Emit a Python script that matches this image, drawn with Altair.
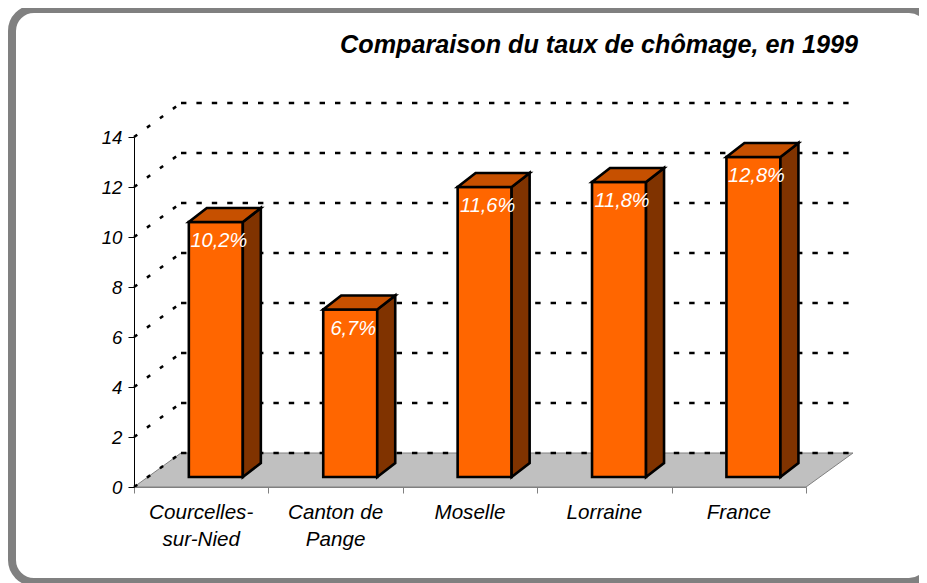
import altair as alt
import pandas as pd

# ---- values ----
CATEGORIES = ["Courcelles-\nsur-Nied", "Canton de\nPange", "Moselle", "Lorraine", "France"]
RATES = [10.2, 6.7, 11.6, 11.8, 12.8]
RATE_LABELS = ["10,2%", "6,7%", "11,6%", "11,8%", "12,8%"]
Y_TICKS = [0, 2, 4, 6, 8, 10, 12, 14]
X_TICKS = [0, 1, 2, 3, 4, 5]
TITLE = "Comparaison du taux de chômage, en 1999"

# ---- geometry (chart units) ----
W, H = 911, 575
X0, X5 = 126, 798          # pixel range of category axis
Y0, Y14 = 479, 129         # pixel range of value axis
UX = (X5 - X0) / 5
UY = (Y0 - Y14) / 14
BACK_DX, BACK_DY = 47 / UX, 34 / UY
BAR_DX, BAR_DY = 18 / UX, 14 / UY
BAR_PAD = 0.408
BAR_LEFT = 54 / UX
BASE = 10 / UY
FONT = "Liberation Sans"

x_scale = alt.Scale(domain=[0, 5], range=[X0, X5], nice=False, zero=False, clamp=False)
y_scale = alt.Scale(domain=[0, 14], range=[Y0, Y14], nice=False, zero=False, clamp=False)
x_axis = alt.Axis(
    orient="bottom", offset=-(H - Y0), values=X_TICKS, labels=False, title=None,
    grid=False, domain=True, domainColor="#808080", tickColor="#808080",
    tickSize=6, tickWidth=1, zindex=1)
y_axis = alt.Axis(
    orient="left", offset=-X0, values=Y_TICKS, title=None, grid=False,
    domainColor="black", tickColor="black", tickSize=6, tickWidth=1,
    labelFont=FONT, labelFontStyle="italic", labelFontSize=18.67,
    labelColor="black", labelPadding=6, zindex=1)
X = lambda f: alt.X(f, type="quantitative", scale=x_scale, axis=x_axis)
Y = lambda f: alt.Y(f, type="quantitative", scale=y_scale, axis=y_axis)

frame = alt.Chart(pd.DataFrame({"a": [0]})).mark_rect(
    fill="white", stroke="#808080", strokeWidth=8, cornerRadius=22
).encode(x=alt.value(4), x2=alt.value(923), y=alt.value(1), y2=alt.value(574))

floor_df = pd.DataFrame({
    "y": [0, BACK_DY],
    "x": [0, BACK_DX],
    "x2": [5, 5 + BACK_DX],
})
floor = alt.Chart(floor_df).mark_area(
    orient="horizontal", fill="#C0C0C0", stroke="#808080", strokeWidth=1
).encode(x=X("x"), x2="x2", y=Y("y"))

back = pd.DataFrame({"v": Y_TICKS})
back["y"] = back.v + BACK_DY
back["x"] = BACK_DX
back["x2"] = 5 + BACK_DX - 4 / UX
grid_h = alt.Chart(back).mark_rule(
    color="black", strokeWidth=2.5, strokeDash=[5.4, 10]
).encode(x=X("x"), x2="x2", y=Y("y"))

diag = pd.concat([
    pd.DataFrame({"v": Y_TICKS, "x": 0.0, "y": Y_TICKS}),
    pd.DataFrame({"v": Y_TICKS, "x": BACK_DX, "y": [t + BACK_DY for t in Y_TICKS]}),
])
grid_d = alt.Chart(diag).mark_line(
    color="black", strokeWidth=2.5, strokeDash=[4, 12]
).encode(x=X("x"), y=Y("y"), detail="v:N")

bars = pd.DataFrame({"cat": CATEGORIES, "rate": RATES, "label": RATE_LABELS})
bars["i"] = range(len(bars))
bars["l"] = bars.i + BAR_PAD
bars["r"] = bars.l + BAR_LEFT
bars["b"] = BASE
bars["t"] = bars.rate + BASE

BAR_STROKE = 2.6
front = alt.Chart(bars).mark_rect(
    fill="#FF6600", stroke="black", strokeWidth=BAR_STROKE
).encode(x=X("l"), x2="r", y=Y("b"), y2="t")

side_rows, top_rows = [], []
for i, rate in enumerate(RATES):
    l = i + BAR_PAD
    r = l + BAR_LEFT
    for k in (0, 1):
        side_rows.append({"i": i, "x": r + k * BAR_DX,
                          "y": BASE + k * BAR_DY,
                          "y2": BASE + rate + k * BAR_DY})
        top_rows.append({"i": i, "y": BASE + rate + k * BAR_DY,
                         "x": l + k * BAR_DX, "x2": r + k * BAR_DX})

side = alt.Chart(pd.DataFrame(side_rows)).mark_area(
    orient="vertical", fill="#803300", stroke="black", strokeWidth=BAR_STROKE
).encode(x=X("x"), y=Y("y"), y2="y2", detail="i:N")
top = alt.Chart(pd.DataFrame(top_rows)).mark_area(
    orient="horizontal", fill="#C65000", stroke="black", strokeWidth=BAR_STROKE
).encode(x=X("x"), x2="x2", y=Y("y"), detail="i:N")

bars["cx"] = bars.l + BAR_LEFT / 2
value_text = alt.Chart(bars).mark_text(
    font=FONT, fontStyle="italic", fontSize=20, color="white", align="center",
    baseline="alphabetic", dx=3, dy=25
).encode(x=X("cx"), y=Y("t"), text="label:N")

cats = pd.DataFrame({"cat": CATEGORIES})
cats["c"] = [i + 0.5 for i in range(len(CATEGORIES))]
cats["y"] = [-32 / UY] * len(CATEGORIES)
cat_text = alt.Chart(cats).mark_text(
    font=FONT, fontStyle="italic", fontSize=20.6, color="black", align="center",
    baseline="alphabetic", lineBreak="\n", lineHeight=27
).encode(x=X("c"), y=Y("y"), text="cat:N")

title = alt.Chart(pd.DataFrame({"t": [TITLE]})).mark_text(
    font=FONT, fontStyle="italic", fontWeight="bold", fontSize=25.2, color="black",
    align="right", baseline="alphabetic"
).encode(x=alt.value(850), y=alt.value(45), text="t:N")

chart = alt.layer(
    frame, title, floor, grid_h, grid_d, front, side, top, value_text, cat_text
).properties(
    width=W, height=H, padding=0, background="white",
    autosize=alt.AutoSizeParams(type="none"),
).configure_view(stroke=None)

chart.save("out.html", embed_options={"renderer": "svg", "actions": False})
